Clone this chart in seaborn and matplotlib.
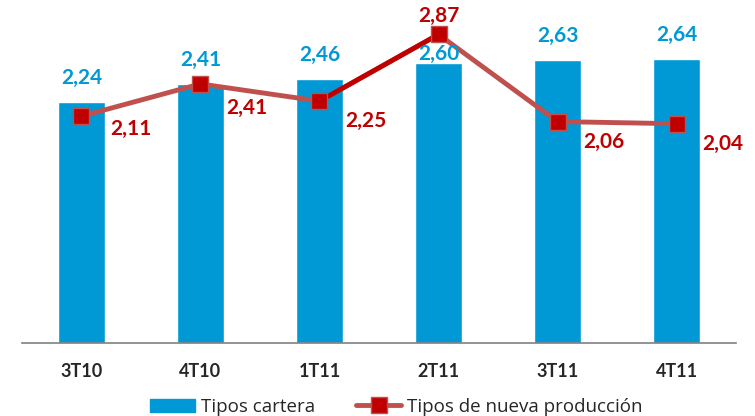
import seaborn as sns
import matplotlib.pyplot as plt
from matplotlib.lines import Line2D
from matplotlib.patches import Patch

quarters = ["3T10", "4T10", "1T11", "2T11", "3T11", "4T11"]
tipos_cartera = [2.24, 2.41, 2.46, 2.60, 2.63, 2.64]
tipos_nueva = [2.11, 2.41, 2.25, 2.87, 2.06, 2.04]

blue = "#0099D5"
red = "#C00000"
red_line = "#C0504D"

sns.set_style("white")
plt.rcParams["font.family"] = ["Lato", "DejaVu Sans"]

fig = plt.figure(figsize=(7.55, 4.16), dpi=100)
ax = fig.add_axes([0.029, 0.175, 0.946, 0.825])

sns.barplot(x=quarters, y=tipos_cartera, color=blue, width=0.4,
            saturation=1, ax=ax)

xs = list(range(len(quarters)))
ax.plot(xs, tipos_nueva, color=red_line, lw=3.5, zorder=3)
# the 1T11 -> 2T11 segment is drawn in the stronger red
ax.plot(xs[2:4], tipos_nueva[2:4], color=red, lw=3.5, zorder=3)
ax.plot(xs, tipos_nueva, ls="none", marker="s", ms=12, mfc=red,
        mec=red_line, mew=1, zorder=4)

# labels on the bars
for i, v in enumerate(tipos_cartera):
    dy = 10 if quarters[i] == "2T11" else 24
    ax.annotate(f"{v:.2f}".replace(".", ","), (i, v), xytext=(0, dy),
                textcoords="offset pixels", ha="center", va="center",
                color=blue, fontsize=15, fontweight="bold")

# labels on the line
for i, v in enumerate(tipos_nueva):
    if quarters[i] == "2T11":
        off = (0, 18)
    elif quarters[i] == "3T10":
        off = (49, -13)
    elif quarters[i] == "4T10":
        off = (46, -24)
    else:
        off = (46, -20)
    ax.annotate(f"{v:.2f}".replace(".", ","), (i, v), xytext=off,
                textcoords="offset pixels", ha="center", va="center",
                color=red, fontsize=15, fontweight="bold", zorder=5)

ax.set_ylim(0, 3.19)
ax.set_xlim(-0.5, len(quarters) - 0.5)
ax.set_yticks([])
for s in ["top", "right", "left"]:
    ax.spines[s].set_visible(False)
ax.spines["bottom"].set_color("#808080")
ax.spines["bottom"].set_linewidth(1.2)

# ticks between categories, labels centred under the bars
ax.set_xticks([i - 0.5 for i in range(len(quarters) + 1)], minor=False)
ax.set_xticklabels([])
ax.set_xticks(xs, minor=True)
ax.set_xticklabels(quarters, minor=True, fontsize=13, fontweight="bold")
ax.tick_params(axis="x", which="major", length=6, width=1.2,
               color="#808080", direction="out")
ax.tick_params(axis="x", which="minor", length=0, pad=14)

handles = [
    Patch(facecolor=blue, edgecolor=blue),
    Line2D([], [], color=red_line, lw=3.5, marker="s", ms=12,
           mfc=red, mec=red_line),
]
fig.legend(handles, ["Tipos cartera", "Tipos de nueva producción"],
           loc="lower center", bbox_to_anchor=(0.525, -0.04), ncol=2,
           frameon=False, handlelength=2.4, handletextpad=0.3,
           columnspacing=2.2,
           prop={"family": ["Open Sans", "DejaVu Sans"], "size": 13.5})

fig.savefig("out.png", dpi=100)
